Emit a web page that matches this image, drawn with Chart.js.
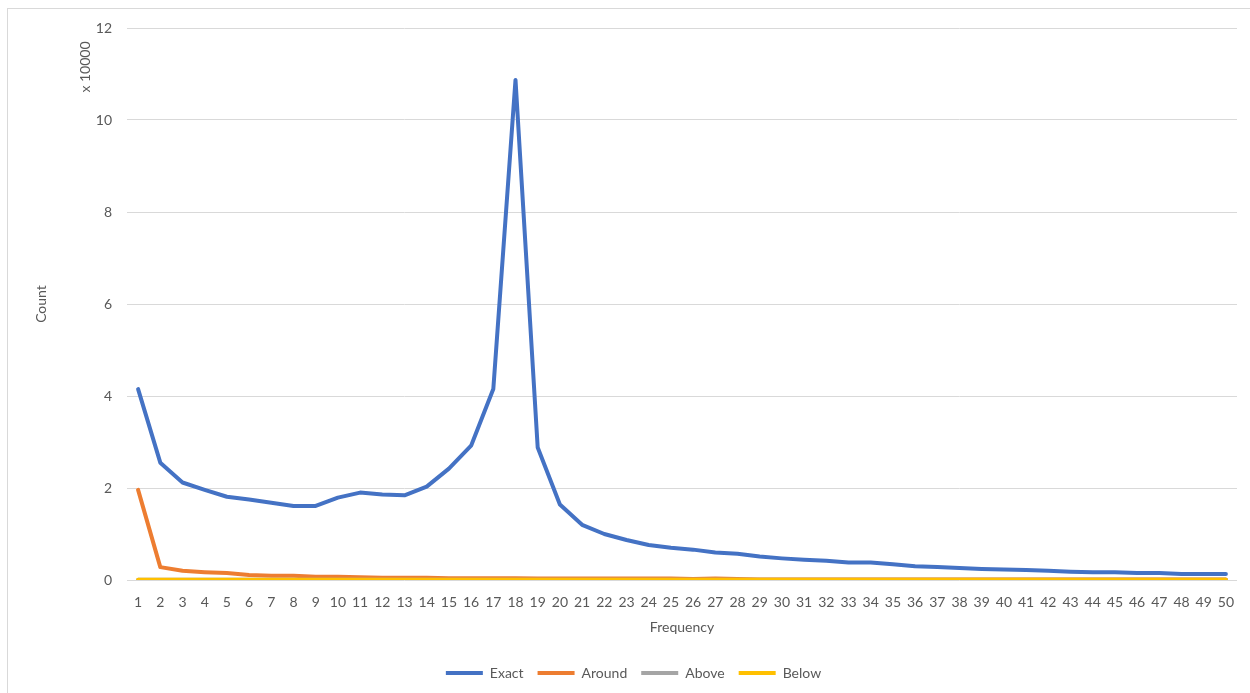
<!DOCTYPE html>
<html>
<head>
<meta charset="utf-8">
<script src="https://cdn.jsdelivr.net/npm/chart.js@4/dist/chart.umd.min.js"></script>
<style>
  html, body { margin: 0; padding: 0; background: #fff; }
  #wrap { position: relative; width: 1250px; height: 693px; }
  #frame { position: absolute; left: 7px; top: 8px; right: -2px; bottom: -2px; border: 1px solid #d9d9d9; }
  #countChart { position: absolute; left: 0; top: 0; }
</style>
</head>
<body>
<div id="wrap">
  <div id="frame"></div>
  <canvas id="countChart" width="1250" height="693"></canvas>
</div>
<script>
// frequencies 1..50
const frequencies = Array.from({ length: 50 }, (_, i) => String(i + 1));

// counts (axis shown in units of 10000)
const exact = [41500, 25500, 21200, 19600, 18100, 17500, 16800, 16100, 16100, 17900,
               19000, 18600, 18400, 20300, 24200, 29200, 41500, 108700, 28800, 16400,
               12000, 10000, 8700, 7600, 7000, 6600, 6000, 5700, 5100, 4700,
               4400, 4200, 3800, 3800, 3400, 3000, 2800, 2600, 2400, 2300,
               2200, 2000, 1800, 1700, 1700, 1500, 1500, 1300, 1300, 1300];
const around = [19600, 2800, 2000, 1700, 1500, 1100, 900, 900, 700, 700,
                600, 500, 500, 500, 400, 400, 400, 400, 300, 300,
                300, 300, 300, 300, 300, 200, 300, 200, 100, 100,
                100, 100, 100, 100, 100, 100, 100, 100, 100, 100,
                100, 100, 100, 100, 100, 100, 100, 100, 100, 100];
const above = Array(50).fill(30);
const below = Array(50).fill(60);

const yTicks = [0, 20000, 40000, 60000, 80000, 100000, 120000];

const grey = '#595959';
const font = { family: 'Lato', size: 14 };

// the "x 10000" display-unit label next to the value axis
const unitLabel = {
  id: 'unitLabel',
  afterDraw(chart) {
    const ctx = chart.ctx;
    ctx.save();
    ctx.translate(85, 67);
    ctx.rotate(-Math.PI / 2);
    ctx.font = '14px Lato';
    ctx.fillStyle = grey;
    ctx.textAlign = 'center';
    ctx.textBaseline = 'middle';
    ctx.fillText('x 10000', 0, 0);
    ctx.restore();
  }
};

const ctxCount = document.getElementById('countChart');
new Chart(ctxCount, {
  type: 'line',
  data: {
    labels: frequencies,
    datasets: [
      { label: 'Exact', data: exact, borderColor: '#4472C4', backgroundColor: '#4472C4', borderWidth: 4, order: 3 },
      { label: 'Around', data: around, borderColor: '#ED7D31', backgroundColor: '#ED7D31', borderWidth: 4, order: 2 },
      { label: 'Above', data: above, borderColor: '#A5A5A5', backgroundColor: '#A5A5A5', borderWidth: 4, order: 1 },
      { label: 'Below', data: below, borderColor: '#FFC000', backgroundColor: '#FFC000', borderWidth: 4, order: 0 }
    ]
  },
  options: {
    responsive: false,
    animation: false,
    elements: {
      line: { tension: 0, borderJoinStyle: 'round', borderCapStyle: 'round' },
      point: { radius: 0 }
    },
    layout: { padding: { left: 30, right: 13, top: 28, bottom: 3 } },
    plugins: {
      tooltip: { enabled: false },
      legend: {
        position: 'bottom',
        labels: {
          usePointStyle: true,
          pointStyle: 'line',
          pointStyleWidth: 37,
          color: grey,
          font: font,
          padding: 14,
          sort: (a, b) => a.datasetIndex - b.datasetIndex
        }
      }
    },
    scales: {
      x: {
        offset: true,
        grid: { display: false, drawTicks: false },
        border: { display: false },
        ticks: { color: grey, font: font, autoSkip: false, maxRotation: 0, padding: 14 },
        title: { display: true, text: 'Frequency', color: grey, font: font, padding: { top: 0, bottom: 16 } },
        afterFit(scale) { scale.height = 72; }
      },
      y: {
        min: 0,
        max: 120000,
        afterBuildTicks(scale) { scale.ticks = yTicks.map(v => ({ value: v })); },
        grid: { color: '#d9d9d9', drawTicks: false },
        border: { display: false },
        ticks: { color: grey, font: font, padding: 15, callback: v => v / 10000 },
        title: { display: true, text: 'Count', color: grey, font: font, padding: { top: 3, bottom: 0 } },
        afterFit(scale) { scale.width = 97; }
      }
    }
  },
  plugins: [unitLabel]
});
</script>
</body>
</html>
